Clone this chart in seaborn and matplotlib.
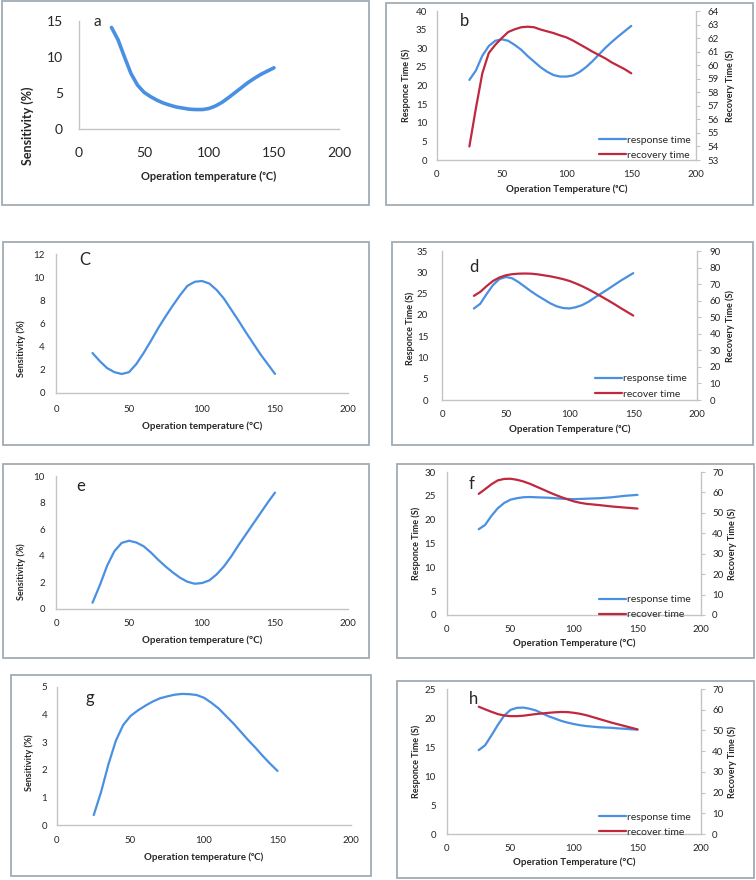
import matplotlib
matplotlib.use("Agg")
import matplotlib.pyplot as plt
from matplotlib.patches import Rectangle
import seaborn as sns

temp = [25, 30, 35, 40, 45, 50, 55, 60, 65, 70, 75, 80, 85, 90, 95, 100,
        105, 110, 115, 120, 125, 130, 135, 140, 145, 150]

# sensitivity panels (a, c, e, g)
sens_a = [14.1, 12.4, 10.0, 7.7, 6.1, 5.1, 4.5, 4.0, 3.6, 3.3, 3.05, 2.9, 2.75, 2.7, 2.7, 2.85,
          3.2, 3.7, 4.35, 5.05, 5.75, 6.45, 7.05, 7.6, 8.05, 8.5]
sens_c = [3.45, 2.75, 2.15, 1.8, 1.64, 1.8, 2.5, 3.45, 4.5, 5.6, 6.6, 7.55, 8.45, 9.25, 9.6, 9.67,
          9.45, 8.9, 8.15, 7.2, 6.25, 5.25, 4.3, 3.35, 2.5, 1.65]
sens_e = [0.47, 1.78, 3.25, 4.35, 4.97, 5.13, 5.0, 4.72, 4.25, 3.7, 3.2, 2.75, 2.35, 2.05, 1.9, 1.95,
          2.15, 2.6, 3.2, 3.95, 4.8, 5.6, 6.4, 7.2, 8.0, 8.75]
sens_g = [0.36, 1.2, 2.2, 3.05, 3.62, 3.95, 4.15, 4.32, 4.47, 4.59, 4.66, 4.72, 4.75, 4.74, 4.71, 4.61,
          4.43, 4.22, 3.95, 3.68, 3.38, 3.08, 2.8, 2.5, 2.22, 1.96]

# response / recovery panels (b, d, f, h)
resp_b = [21.5, 24.0, 28.0, 30.6, 32.0, 32.4, 32.0, 30.9, 29.6, 27.9, 26.4, 24.9, 23.7, 22.8, 22.4, 22.4,
          22.7, 23.6, 24.9, 26.5, 28.3, 30.1, 31.7, 33.2, 34.6, 36.0]
rec_b = [54.0, 56.8, 59.4, 60.9, 61.5, 62.0, 62.45, 62.65, 62.8, 62.84, 62.8, 62.63, 62.5, 62.37, 62.2, 62.05,
         61.82, 61.55, 61.28, 61.0, 60.75, 60.5, 60.2, 59.95, 59.7, 59.4]
resp_d = [21.5, 22.6, 24.9, 27.0, 28.4, 28.9, 28.6, 27.7, 26.6, 25.5, 24.5, 23.6, 22.7, 22.0, 21.6, 21.5,
          21.8, 22.3, 23.1, 24.1, 25.05, 26.0, 27.0, 28.0, 28.9, 29.8]
rec_d = [62.9, 65.3, 68.8, 71.9, 74.0, 75.3, 76.0, 76.3, 76.4, 76.3, 75.9, 75.3, 74.7, 73.9, 73.0, 71.9,
         70.4, 68.7, 66.8, 64.7, 62.5, 60.3, 58.0, 55.6, 53.3, 51.0]
resp_f = [18.0, 18.9, 20.8, 22.4, 23.5, 24.2, 24.5, 24.7, 24.75, 24.7, 24.65, 24.6, 24.5, 24.4, 24.35, 24.3,
          24.35, 24.4, 24.45, 24.5, 24.6, 24.7, 24.85, 25.0, 25.1, 25.2]
rec_f = [59.3, 61.6, 64.0, 65.9, 66.6, 66.7, 66.2, 65.4, 64.3, 62.95, 61.6, 60.2, 58.9, 57.7, 56.6, 55.6,
         54.9, 54.4, 54.1, 53.8, 53.45, 53.1, 52.85, 52.6, 52.35, 52.1]
resp_h = [14.46, 15.3, 17.0, 18.8, 20.4, 21.4, 21.75, 21.8, 21.6, 21.3, 20.8, 20.3, 19.9, 19.5, 19.2, 18.95,
          18.75, 18.6, 18.5, 18.4, 18.35, 18.3, 18.2, 18.15, 18.05, 18.0]
rec_h = [61.45, 60.2, 59.0, 57.9, 57.2, 56.9, 56.9, 57.1, 57.5, 57.9, 58.2, 58.5, 58.75, 58.9, 58.85, 58.5,
         58.0, 57.3, 56.4, 55.5, 54.6, 53.7, 52.9, 52.1, 51.3, 50.5]

x_ticks = [0, 50, 100, 150, 200]

sns.set_style("white")
plt.rcParams['font.family'] = ['Lato', 'DejaVu Sans']

BLUE = '#4A90E2'
RED = '#C0283F'
AXC = '#C4C4C4'
TXT = '#262626'
W, H = 756, 880

fig = plt.figure(figsize=(W / 100, H / 100), dpi=100)


def rect(l, t, r, b):
    return [l / W, 1 - b / H, (r - l) / W, (b - t) / H]


def frame(l, t, r, b):
    fig.patches.append(Rectangle((l / W, 1 - b / H), (r - l) / W, (b - t) / H,
                                 transform=fig.transFigure, fill=False,
                                 ec='#A3ABB3', lw=1.3))


def base_axes(ax, ymax, ystep, tfs, padx, pady):
    ax.set_xlim(0, 200)
    ax.set_xticks(x_ticks)
    ax.set_ylim(0, ymax)
    ax.set_yticks([ystep * i for i in range(int(round(ymax / ystep)) + 1)])
    for s in ['top', 'right']:
        ax.spines[s].set_visible(False)
    for s in ['left', 'bottom']:
        ax.spines[s].set_color(AXC)
        ax.spines[s].set_linewidth(1.0)
    ax.tick_params(axis='x', length=0, pad=padx, labelsize=tfs, labelcolor=TXT)
    ax.tick_params(axis='y', length=0, pad=pady, labelsize=tfs, labelcolor=TXT)
    ax.patch.set_alpha(0)


def sens_panel(pos, box, y, ymax, ystep, letter, lpos, xlab, ylab_xy,
               xlab_y, tfs=7, lfs=7, yfs=6.5, padx=9, pady=8, lw=1.6, letfs=12):
    frame(*box)
    ax = fig.add_axes(rect(*pos))
    sns.lineplot(x=temp, y=y, ax=ax, color=BLUE, lw=lw, solid_capstyle='round',
                 solid_joinstyle='round')
    base_axes(ax, ymax, ystep, tfs, padx, pady)
    ax.set_xlabel(xlab, fontsize=lfs, fontweight='bold', color=TXT, va='center')
    ax.xaxis.set_label_coords(0.5, xlab_y)
    ax.set_ylabel('Sensitivity (%)', fontsize=yfs, fontweight='bold', color=TXT, va='center')
    ax.yaxis.set_label_coords(*ylab_xy)
    ax.text(lpos[0], lpos[1], letter, transform=ax.transAxes, fontsize=letfs,
            color=TXT, ha='center', va='center')
    return ax


def time_panel(pos, box, resp, rec, ymax, ystep, rmin, rmax, rstep, letter, lpos,
               rec_label, xlab, xlab_y, ylx, yly, ry, leg_anchor, padx=7, pady=8, rpad=7):
    frame(*box)
    ax = fig.add_axes(rect(*pos))
    sns.lineplot(x=temp, y=resp, ax=ax, color=BLUE, lw=1.6, label='response time',
                 solid_capstyle='round', solid_joinstyle='round', legend=False)
    base_axes(ax, ymax, ystep, 7, padx, pady)
    ax2 = ax.twinx()
    sns.lineplot(x=temp, y=rec, ax=ax2, color=RED, lw=1.6, label=rec_label,
                 solid_capstyle='round', solid_joinstyle='round', legend=False)
    ax2.set_ylim(rmin, rmax)
    ax2.set_yticks([rmin + rstep * i for i in range(int(round((rmax - rmin) / rstep)) + 1)])
    for s in ['top', 'left', 'bottom']:
        ax2.spines[s].set_visible(False)
    ax2.spines['right'].set_color(AXC)
    ax2.spines['right'].set_linewidth(1.0)
    ax2.tick_params(axis='y', length=3, width=0.8, color=AXC, pad=rpad,
                    labelsize=7, labelcolor=TXT)
    ax.set_xlabel(xlab, fontsize=7, fontweight='bold', color=TXT, va='center')
    ax.xaxis.set_label_coords(0.5, xlab_y)
    ax.set_ylabel('Responce Time (S)', fontsize=6.5, fontweight='bold', color=TXT, va='center')
    ax.yaxis.set_label_coords(ylx, yly)
    ax2.set_ylabel('Recovery Time (S)', fontsize=6.5, fontweight='bold', color=TXT,
                   va='center', rotation=90)
    ax2.yaxis.set_label_coords(ry, 0.5)
    ax.text(lpos[0], lpos[1], letter, transform=ax.transAxes, fontsize=12,
            color=TXT, ha='center', va='center')
    h1, l1 = ax.get_legend_handles_labels()
    h2, l2 = ax2.get_legend_handles_labels()
    ax2.legend(h1 + h2, l1 + l2, loc='lower right', bbox_to_anchor=leg_anchor,
               frameon=False, fontsize=7.5, handlelength=2.6, handletextpad=0.1,
               labelspacing=0.55, borderpad=0, borderaxespad=0, labelcolor=TXT)
    return ax


# a
sens_panel((79, 21, 339, 129), (2, 1, 369, 205), sens_a, 15, 5, 'a', (0.07, 0.99),
           'Operation temperature (ᵒC)', (-0.196, 0.03), -0.444,
           tfs=10, lfs=8, yfs=9, padx=13, pady=11.5, lw=2.6, letfs=11)
# b
time_panel((437, 11, 696, 160), (386, 3, 753, 205), resp_b, rec_b, 40, 5, 53, 64, 1,
           'b', (0.108, 0.93), 'recovery time', 'Operation Temperature (ᵒC)', -0.195,
           -0.12, 0.5, 1.131, (0.98, 0.0), padx=7.5, pady=7, rpad=5)
# c
sens_panel((56, 254, 348, 393), (3, 242, 369, 445), sens_c, 12, 2, 'C', (0.1, 0.957),
           'Operation temperature (°C)', (-0.12, 0.32), -0.237, padx=9, pady=8)
# d
time_panel((442, 251, 697, 400), (392, 242, 753, 445), resp_d, rec_d, 35, 5, 0, 90, 10,
           'd', (0.125, 0.89), 'recover time', 'Operation Temperature (ᵒC)', -0.195,
           -0.125, 0.483, 1.129, (0.96, 0.01), padx=7, pady=10, rpad=6)
# e
sens_panel((56, 476, 348, 609), (3, 464, 369, 658), sens_e, 10, 2, 'e', (0.086, 0.925),
           'Operation temperature (°C)', (-0.12, 0.28), -0.233, padx=7.5, pady=8)
# f
time_panel((447, 472, 701, 615), (397, 464, 754, 658), resp_f, rec_f, 30, 5, 0, 70, 10,
           'f', (0.098, 0.916), 'recover time', 'Operation Temperature (°C)', -0.196,
           -0.122, 0.5, 1.122, (0.96, -0.03), padx=7, pady=8, rpad=5)
# g
sens_panel((57, 687, 351, 825), (11, 675, 371, 876), sens_g, 5, 1, 'g', (0.112, 0.92),
           'Operation temperature (ᵒC)', (-0.095, 0.45), -0.232, padx=8, pady=7)
# h
time_panel((447, 689, 701, 834), (397, 681, 754, 878), resp_h, rec_h, 25, 5, 0, 70, 10,
           'h', (0.106, 0.93), 'recover time', 'Operation Temperature (°C)', -0.193,
           -0.122, 0.5, 1.122, (0.96, -0.02), padx=7, pady=8, rpad=5)

fig.savefig('out.png', dpi=100)
